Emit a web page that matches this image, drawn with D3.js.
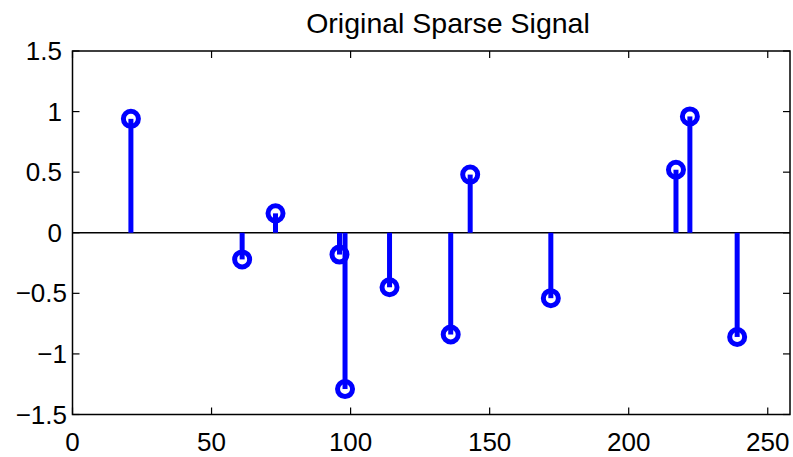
<!DOCTYPE html>
<html>
<head>
<meta charset="utf-8">
<script src="https://cdn.jsdelivr.net/npm/d3@7"></script>
<style>
  html, body { margin: 0; padding: 0; background: #fff; }
  svg { display: block; font-family: "Liberation Sans", Arial, Helvetica, sans-serif; }
</style>
</head>
<body>
<svg id="chart" width="793" height="457"></svg>
<script>
// Data
const indices = [21, 61, 73, 96, 98, 114, 136, 143, 172, 217, 222, 239];
const values  = [0.94, -0.22, 0.16, -0.18, -1.29, -0.45, -0.84, 0.48, -0.54, 0.52, 0.96, -0.86];
const xTicks = [0, 50, 100, 150, 200, 250];
const yTicks = [-1.5, -1, -0.5, 0, 0.5, 1, 1.5];
const title = "Original Sparse Signal";

const svg = d3.select("#chart");
const L = 72.5, R = 790, T = 51, B = 414.5;
const x = d3.scaleLinear().domain([0, 258]).range([L, R]);
const y = d3.scaleLinear().domain([-1.5, 1.5]).range([B, T]);
const fmt = d => d3.format("")(d).replace("-", "\u2212");
const tickLen = 7;

// frame
svg.append("rect").attr("x", L).attr("y", T).attr("width", R - L).attr("height", B - T)
  .attr("fill", "none").attr("stroke", "#000").attr("stroke-width", 1.5);

// ticks
const tg = svg.append("g").attr("stroke", "#000").attr("stroke-width", 1.2);
xTicks.forEach(t => {
  tg.append("line").attr("x1", x(t)).attr("x2", x(t)).attr("y1", B).attr("y2", B - tickLen);
  tg.append("line").attr("x1", x(t)).attr("x2", x(t)).attr("y1", T).attr("y2", T + tickLen);
});
yTicks.forEach(t => {
  tg.append("line").attr("x1", L).attr("x2", L + tickLen).attr("y1", y(t)).attr("y2", y(t));
  tg.append("line").attr("x1", R).attr("x2", R - tickLen).attr("y1", y(t)).attr("y2", y(t));
});

// tick labels
svg.append("g").selectAll("text").data(xTicks).join("text")
  .attr("x", d => x(d)).attr("y", 451)
  .attr("text-anchor", "middle").attr("font-size", 26).attr("fill", "#000")
  .text(fmt);
svg.append("g").selectAll("text").data(yTicks).join("text")
  .attr("x", d => d < 0 ? 67 : 62).attr("y", d => y(d))
  .attr("dy", "0.35em")
  .attr("text-anchor", "end").attr("font-size", 26).attr("fill", "#000")
  .text(fmt);

// title
svg.append("text").attr("x", 448).attr("y", 33).attr("text-anchor", "middle")
  .attr("font-size", 28.5).attr("fill", "#000").text(title);

// baseline
svg.append("line").attr("x1", L).attr("x2", R).attr("y1", y(0)).attr("y2", y(0))
  .attr("stroke", "#000").attr("stroke-width", 1.5);

const pts = indices.map((k, i) => ({ k, v: values[i] }));
// stems
svg.append("g").selectAll("line").data(pts).join("line")
  .attr("x1", d => x(d.k)).attr("x2", d => x(d.k))
  .attr("y1", y(0)).attr("y2", d => y(d.v))
  .attr("stroke", "#0000ff").attr("stroke-width", 5);
// markers
svg.append("g").selectAll("circle").data(pts).join("circle")
  .attr("cx", d => x(d.k)).attr("cy", d => y(d.v)).attr("r", 7.5)
  .attr("fill", "none").attr("stroke", "#0000ff").attr("stroke-width", 5);
</script>
</body>
</html>
